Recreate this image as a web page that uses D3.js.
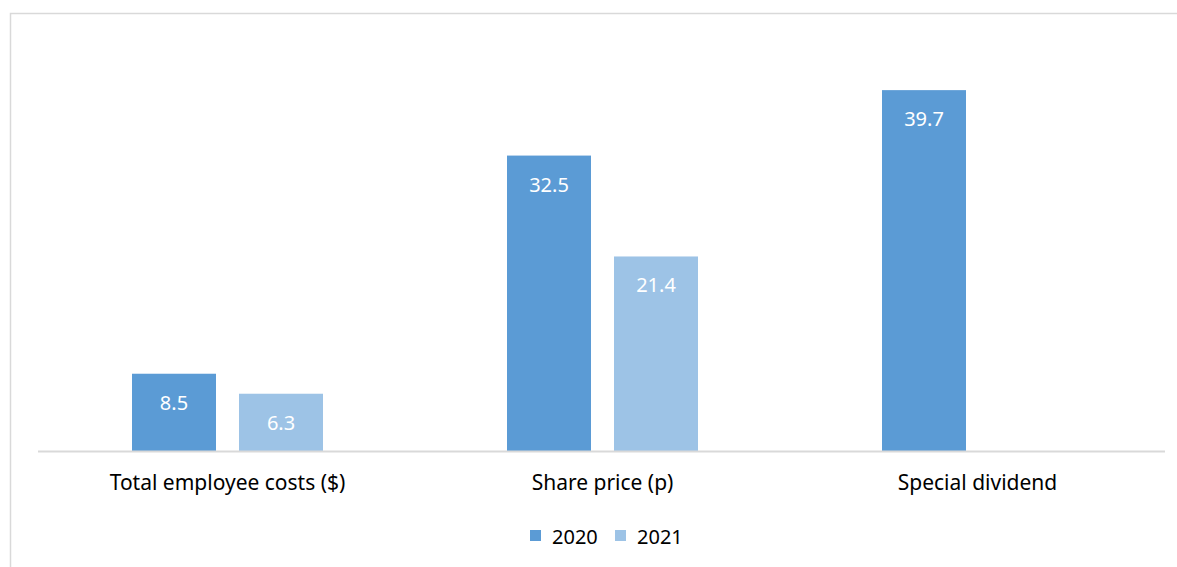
<!DOCTYPE html>
<html>
<head>
<meta charset="utf-8">
<script src="https://cdn.jsdelivr.net/npm/d3@7"></script>
<style>
  body { margin: 0; background: #fff; }
  text { font-family: "Noto Sans", "Open Sans", sans-serif; }
</style>
</head>
<body>
<script>
// chart values
var categories = ["Total employee costs ($)", "Share price (p)", "Special dividend"];
var seriesNames = ["2020", "2021"];
var values2020 = [8.5, 32.5, 39.7];
var values2021 = [6.3, 21.4, null];
var seriesColors = ["#5b9bd5", "#9dc3e6"];

var width = 1177, height = 567;

var svg = d3.select("body")
    .append("svg")
    .attr("width", width)
    .attr("height", height);

// chart frame (left and top edges visible)
svg.append("path")
    .attr("d", "M10.5,567 V13.5 H1177")
    .attr("fill", "none")
    .attr("stroke", "#d9d9d9")
    .attr("stroke-width", 1.5);

var baseY = 451;

var x0 = d3.scaleBand()
    .domain(categories)
    .range([40, 1165]);

var x1 = d3.scaleBand()
    .domain(seriesNames)
    .range([92, 283])
    .paddingInner(0.215);

var y = d3.scaleLinear()
    .domain([0, 45])
    .range([baseY, baseY - 45 * 9.09]);

var rows = categories.map(function(c, i) {
    return {cat: c, vals: [values2020[i], values2021[i]]};
});

var g = svg.append("g");

var groups = g.selectAll(".grp")
    .data(rows)
    .join("g")
    .attr("class", "grp")
    .attr("transform", d => `translate(${x0(d.cat)},0)`);

var bars = groups.selectAll(".bar")
    .data(d => d.vals.map((v, i) => ({s: seriesNames[i], v: v, i: i})).filter(e => e.v != null))
    .join("g")
    .attr("class", "bar");

bars.append("rect")
    .attr("x", d => x1(d.s))
    .attr("y", d => y(d.v))
    .attr("width", x1.bandwidth())
    .attr("height", d => baseY - y(d.v))
    .attr("fill", d => seriesColors[d.i]);

bars.append("text")
    .attr("x", d => x1(d.s) + x1.bandwidth() / 2)
    .attr("y", d => y(d.v) + 36)
    .attr("text-anchor", "middle")
    .attr("fill", "#fff")
    .style("font-size", "20px")
    .text(d => d.v.toFixed(1));

// baseline
g.append("line")
    .attr("x1", 38).attr("x2", 1165)
    .attr("y1", baseY + 0.5).attr("y2", baseY + 0.5)
    .attr("stroke", "#d9d9d9")
    .attr("stroke-width", 2);

// category labels
var xAxis = d3.axisBottom(x0).tickSize(0).tickPadding(0);
g.append("g")
    .attr("transform", `translate(0,${baseY + 39})`)
    .call(xAxis)
    .call(a => a.select(".domain").remove())
    .call(a => a.selectAll("text")
        .attr("dy", 0)
        .attr("fill", "#000")
        .style("font-size", "21px")
        .style("font-family", '"Noto Sans", sans-serif'));

// legend
var legendX = [530, 615];
var legend = svg.append("g")
    .selectAll("g")
    .data(seriesNames)
    .join("g")
    .attr("transform", (d, i) => `translate(${legendX[i]},530)`);

legend.append("rect")
    .attr("width", 11).attr("height", 11)
    .attr("fill", (d, i) => seriesColors[i]);

legend.append("text")
    .attr("x", 22)
    .attr("y", 13.5)
    .attr("fill", "#000")
    .style("font-size", "20px")
    .text(d => d);
</script>
</body>
</html>
